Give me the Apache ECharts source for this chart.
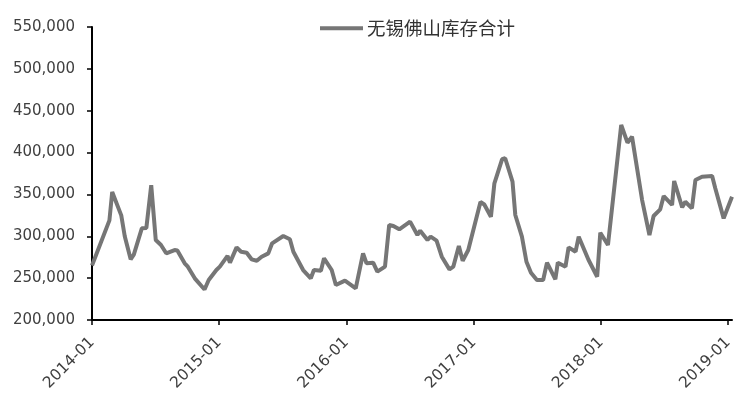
<!DOCTYPE html>
<html>
<head>
<meta charset="utf-8">
<script src="https://cdn.jsdelivr.net/npm/echarts@6/dist/echarts.min.js"></script>
<style>html,body{margin:0;padding:0;background:#fff}#c{width:746px;height:405px}</style>
</head>
<body>
<div id="c"></div>
<script>
var seriesName = '无锡佛山库存合计';
var dates = [
 '2014-01-01','2014-02-20','2014-02-28','2014-03-26','2014-04-05','2014-04-22','2014-05-01','2014-05-24','2014-06-06','2014-06-20',
 '2014-07-03','2014-07-18','2014-08-02','2014-08-26','2014-09-03','2014-09-24','2014-10-03','2014-10-23','2014-11-20','2014-12-02',
 '2014-12-24','2015-01-03','2015-01-25','2015-02-01','2015-02-20','2015-03-05','2015-03-21','2015-04-04','2015-04-19','2015-05-03',
 '2015-05-22','2015-06-02','2015-07-04','2015-07-23','2015-08-02','2015-08-30','2015-09-21','2015-09-30','2015-10-20','2015-10-29',
 '2015-11-20','2015-12-02','2015-12-28','2016-01-14','2016-01-28','2016-02-18','2016-02-28','2016-03-18','2016-03-30','2016-04-21',
 '2016-05-03','2016-05-15','2016-06-01','2016-07-02','2016-07-23','2016-07-31','2016-08-21','2016-08-30','2016-09-16','2016-10-01',
 '2016-10-23','2016-11-03','2016-11-19','2016-11-30','2016-12-16','2017-01-20','2017-01-31','2017-02-19','2017-03-01','2017-03-23',
 '2017-04-01','2017-04-22','2017-04-30','2017-05-19','2017-06-01','2017-06-14','2017-07-01','2017-07-19','2017-07-30','2017-08-23',
 '2017-08-30','2017-09-21','2017-09-30','2017-10-20','2017-10-29','2017-11-26','2017-12-21','2017-12-30','2018-01-21','2018-02-28',
 '2018-03-18','2018-03-31','2018-04-29','2018-05-20','2018-06-01','2018-06-20','2018-06-30','2018-07-24','2018-07-30','2018-08-22',
 '2018-08-31','2018-09-19','2018-09-29','2018-10-18','2018-11-16','2018-11-25','2018-12-19','2019-01-12'
];
var values = [
 265000,319000,353000,325000,300000,272500,278000,309500,310000,361000,
 295600,289600,279700,283600,283000,267700,263700,249800,236500,247800,
 259700,263700,276500,268500,286800,281500,280400,272500,270800,275600,
 279600,291600,300300,296400,281600,259700,249800,259700,258900,273700,
 259700,241800,247000,242000,237800,279600,267700,268500,257700,263700,
 313500,312300,308300,317500,301500,306700,295600,299500,294800,275600,
 260500,263700,288400,270800,283600,341000,338000,323400,363300,392000,
 393200,365300,325400,299500,269600,256500,247800,247800,268500,248600,
 268500,263700,286800,281600,299500,272000,251700,304300,289600,432900,
 411800,419000,343300,301500,324200,332200,348100,337400,366000,334600,
 341300,333400,367200,371200,372000,357300,321400,347300
];
var yTicks = {min: 200000, max: 550000, step: 50000};
var xRange = {min: '2014-01-01', max: '2019-01-12'};

var data = dates.map(function (d, i) { return [d, values[i]]; });
var chart = echarts.init(document.getElementById('c'), null, {renderer: 'canvas'});
var YEAR = 365.25 * 24 * 3600 * 1000;
chart.setOption({
  animation: false,
  backgroundColor: '#ffffff',
  grid: {left: 92, right: 14, top: 27, bottom: 85, containLabel: false},
  legend: {
    left: 315, top: 14,
    itemWidth: 43, itemHeight: 4, itemGap: 5,
    icon: 'rect',
    textStyle: {fontFamily: 'Noto Sans CJK SC', fontSize: 18.5, color: '#333333', padding: [0, 0, 0, -1]},
    data: [seriesName]
  },
  xAxis: {
    type: 'time',
    min: xRange.min, max: xRange.max,
    minInterval: YEAR * 0.99, maxInterval: YEAR * 1.01,
    splitLine: {show: false},
    axisLine: {lineStyle: {color: '#000', width: 2}},
    axisTick: {show: true, length: 5, lineStyle: {color: '#000', width: 1.5}},
    axisLabel: {
      rotate: 45, margin: 20, color: '#404040', fontFamily: 'DejaVu Sans', fontSize: 15.5,
      formatter: '{yyyy}-{MM}', showMinLabel: true
    },
    minorTick: {show: false}
  },
  yAxis: {
    type: 'value',
    min: yTicks.min, max: yTicks.max, interval: yTicks.step,
    splitLine: {show: false},
    axisLine: {show: true, lineStyle: {color: '#000', width: 2}},
    axisTick: {show: true, length: 5, lineStyle: {color: '#000', width: 1.5}},
    axisLabel: {
      margin: 17, color: '#404040', fontFamily: 'DejaVu Sans', fontSize: 15,
      formatter: function (v) { return v.toLocaleString('en-US'); }
    }
  },
  series: [{
    name: seriesName,
    type: 'line',
    data: data,
    showSymbol: false,
    symbol: 'none',
    lineStyle: {color: '#767676', width: 4},
    itemStyle: {color: '#767676'}
  }]
});
</script>
</body>
</html>
